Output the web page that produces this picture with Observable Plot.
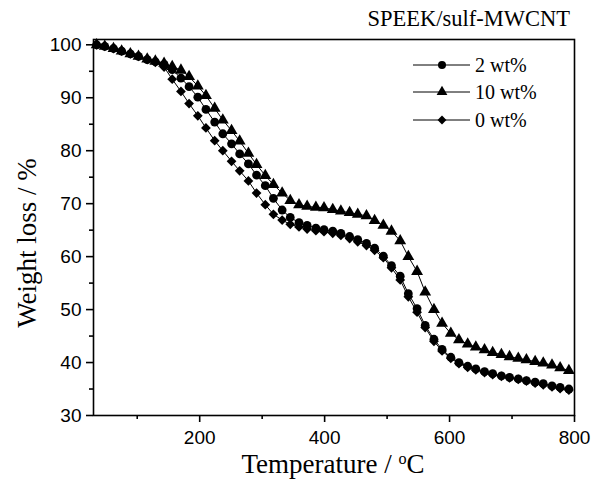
<!DOCTYPE html>
<html><head><meta charset="utf-8">
<script src="https://cdn.jsdelivr.net/npm/d3@7"></script>
<script src="https://cdn.jsdelivr.net/npm/@observablehq/plot@0.6"></script>
<style>
body{margin:0;background:#fff;}
#wrap{position:relative;width:592px;height:483px;overflow:hidden;background:#fff;}
.lbl{position:absolute;font-family:"Liberation Serif","Times New Roman",serif;color:#000;white-space:nowrap;line-height:1;}
</style></head><body><div id="wrap"></div>
<script>
// Temperature (°C) sample points
const temps = [35, 48, 62, 75, 89, 102, 116, 129, 143, 156, 170, 183, 197, 210, 224, 237, 251, 264, 278, 291,
  305, 318, 332, 345, 359, 372, 386, 399, 413, 426, 440, 453, 467, 480, 494, 507, 521, 534, 548, 561,
  575, 588, 602, 615, 629, 642, 656, 669, 683, 696, 710, 723, 737, 750, 764, 777, 791];
// Weight (%) per series
const w2 = [100, 99.7, 99.3, 98.8, 98.3, 97.8, 97.2, 96.8, 96.3, 95.3, 93.7, 92.1, 90.1, 87.8, 85.4, 83.2, 81.3, 79.4, 77.5, 75.4,
  73.4, 71.0, 68.8, 67.4, 66.4, 65.9, 65.4, 65.1, 64.8, 64.4, 63.8, 63.2, 62.5, 61.6, 60.1, 58.3, 56.3, 53.0, 50.2, 47.0,
  44.4, 42.5, 41.0, 40.0, 39.3, 38.8, 38.3, 37.9, 37.5, 37.2, 36.9, 36.6, 36.3, 36.0, 35.6, 35.3, 35.0];
const w10 = [100, 99.7, 99.3, 98.8, 98.3, 97.8, 97.3, 96.9, 96.5, 95.9, 95.2, 94.0, 92.2, 90.4, 88.0, 85.8, 83.8, 81.8, 79.5, 77.4,
  75.3, 73.6, 72.0, 70.6, 69.8, 69.5, 69.3, 69.2, 68.9, 68.6, 68.3, 68.0, 67.7, 66.8, 65.9, 64.8, 63.0, 60.0, 57.2, 53.3,
  50.0, 47.4, 45.5, 44.3, 43.5, 42.9, 42.4, 41.9, 41.5, 41.1, 40.8, 40.5, 40.2, 39.9, 39.5, 39.0, 38.5];
const w0 = [100, 99.7, 99.3, 98.8, 98.3, 97.8, 97.2, 96.7, 95.8, 93.5, 91.2, 88.9, 86.6, 84.3, 81.9, 80.0, 78.0, 76.2, 74.3, 72.0,
  69.8, 68.0, 66.9, 66.1, 65.6, 65.2, 64.9, 64.7, 64.4, 64.0, 63.4, 62.8, 62.1, 61.2, 59.8, 57.9, 55.6, 52.4, 49.5, 46.6,
  44.0, 42.2, 40.8, 39.8, 39.1, 38.6, 38.1, 37.7, 37.4, 37.1, 36.8, 36.5, 36.1, 35.8, 35.4, 35.1, 34.8];
const seriesNames = ["2 wt%", "10 wt%", "0 wt%"];
const seriesSymbols = ["circle", "triangle", "diamond2"];
const xMajorTicks = [200, 400, 600, 800];
const xMinorTicks = [100, 300, 500, 700];
const yMajorTicks = [30, 40, 50, 60, 70, 80, 90, 100];
const yMinorTicks = [35, 45, 55, 65, 75, 85, 95];

const seriesValues = [w2, w10, w0];
const rows = [];
seriesNames.forEach((name, s) => {
  temps.forEach((t, i) => rows.push({series: name, T: t, W: seriesValues[s][i]}));
});

const chart = Plot.plot({
  width: 592,
  height: 483,
  marginLeft: 93,
  marginRight: 18,
  marginTop: 39,
  marginBottom: 68,
  style: {fontFamily: "'Liberation Sans', Arial, sans-serif", fontSize: "19px", color: "#000", background: "#fff"},
  x: {domain: [30, 800], label: null},
  y: {domain: [30, 101], label: null},
  symbol: {domain: seriesNames, range: seriesSymbols},
  marks: [
    Plot.line(rows, {x: "T", y: "W", z: "series", stroke: "#000", strokeWidth: 1}),
    Plot.dot(rows, {x: "T", y: "W", symbol: "series", fill: "#000", stroke: "none", r: 4.4}),
    Plot.axisX({ticks: xMajorTicks, tickSize: 7, tickPadding: 8, strokeWidth: 1.6, label: null}),
    Plot.axisX({ticks: xMinorTicks, tickSize: 4, tickFormat: () => "", strokeWidth: 1.6, label: null}),
    Plot.axisY({ticks: yMajorTicks, tickSize: 7, tickPadding: 5, strokeWidth: 1.6, label: null}),
    Plot.axisY({ticks: yMinorTicks, tickSize: 4, tickFormat: () => "", strokeWidth: 1.6, label: null}),
    Plot.frame({stroke: "#000", strokeWidth: 1.6})
  ]
});
const wrap = document.getElementById("wrap");
chart.style.position = "absolute";
chart.style.left = "0px";
chart.style.top = "0px";
wrap.appendChild(chart);

function addLabel(text, css) {
  const d = document.createElement("div");
  d.className = "lbl";
  d.innerHTML = text;
  Object.assign(d.style, css);
  wrap.appendChild(d);
  return d;
}
// title
addLabel("SPEEK/sulf-MWCNT", {right: "22px", top: "8px", fontSize: "22.5px"});
// x label
addLabel("Temperature / <sup style='font-size:0.6em;line-height:0;vertical-align:0.55em'>o</sup>C", {left: "333px", top: "451px", fontSize: "27px", transform: "translateX(-50%)"});
// y label
addLabel("Weight loss / %", {left: "27px", top: "243px", fontSize: "27px", transform: "translate(-50%,-50%) rotate(-90deg)"});

// legend
const leg = d3.select(wrap).append("svg")
  .attr("width", 180).attr("height", 80)
  .style("position", "absolute").style("left", "405px").style("top", "50px");
const rowY = [15, 42, 70];
seriesNames.forEach((name, i) => {
  const g = leg.append("g").attr("transform", `translate(0,${rowY[i]})`);
  g.append("line").attr("x1", 8).attr("x2", 65).attr("y1", 0).attr("y2", 0).attr("stroke", "#000").attr("stroke-width", 1);
  const symType = {circle: d3.symbolCircle, triangle: d3.symbolTriangle, diamond2: d3.symbolDiamond2}[seriesSymbols[i]];
  g.append("path").attr("transform", "translate(37,0)").attr("d", d3.symbol(symType, Math.PI * 16)()).attr("fill", "#000");
  g.append("text").attr("x", 70).attr("y", 0).attr("dy", "0.35em")
    .attr("font-family", "'Liberation Serif','Times New Roman',serif").attr("font-size", 20).text(name);
});
</script>
</body></html>
